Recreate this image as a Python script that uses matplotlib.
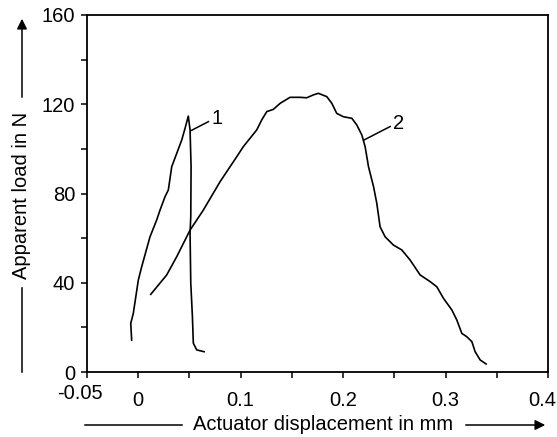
import numpy as np
import matplotlib
matplotlib.use("Agg")
import matplotlib.pyplot as plt
import matplotlib.transforms as mtransforms
from matplotlib.patches import FancyArrowPatch
from matplotlib.ticker import MultipleLocator, FixedLocator, FixedFormatter

plt.rcParams['font.family'] = ['Liberation Sans', 'DejaVu Sans']

# curve 1: up then almost vertical down
c1_x = [-0.0064, -0.0073, -0.0048, 0.0001, 0.0034, 0.0115, 0.018, 0.0213, 0.0262,
        0.0294, 0.0327, 0.0376, 0.0425, 0.0457, 0.0489,
        0.0506, 0.0516, 0.0513, 0.0506, 0.0513, 0.0529, 0.0538, 0.0571, 0.0643]
c1_y = [14.3, 21.8, 26.3, 41.2, 47.2, 60.6, 68.1, 72.6, 78.6,
        81.6, 92.0, 98.0, 104.0, 109.2, 114.7,
        108.5, 92.0, 69.6, 62.2, 39.8, 24.8, 12.9, 9.9, 9.1]

# curve 2
c2_x = [0.0122, 0.0278, 0.0376, 0.0506, 0.0636, 0.0799, 0.0962, 0.1026, 0.1157,
        0.1206, 0.1255, 0.1319, 0.1385, 0.1482, 0.158, 0.1645, 0.171, 0.1759,
        0.1841, 0.189, 0.1938, 0.2003, 0.2085, 0.2134, 0.2183, 0.2215, 0.2248,
        0.2297, 0.2329, 0.2361, 0.241, 0.2491, 0.2573, 0.2654, 0.2752, 0.285,
        0.2915, 0.298, 0.3062, 0.311, 0.3159, 0.3208, 0.3257, 0.3289, 0.3338, 0.3396]
c2_y = [34.8, 43.5, 51.7, 63.6, 72.6, 85.3, 96.5, 101.0, 108.5,
        113.0, 116.7, 117.7, 120.4, 123.1, 123.1, 122.9, 124.2, 124.9,
        123.4, 120.4, 115.9, 114.4, 113.7, 110.7, 106.2, 101.0, 92.0,
        83.1, 75.6, 65.1, 60.6, 56.9, 54.7, 50.2, 43.5, 40.5,
        38.2, 33.0, 27.8, 23.3, 17.3, 15.8, 13.6, 9.1, 5.4, 3.6]

x_ticks = [-0.05, 0, 0.1, 0.2, 0.3, 0.4]
x_tick_labels = ["-0.05", "0", "0.1", "0.2", "0.3", "0.4"]
y_ticks = [0, 40, 80, 120, 160]

FS = 14.5

fig = plt.figure(figsize=(5.57, 4.37), dpi=100)
ax = fig.add_axes([0.1562, 0.1487, 0.8276, 0.817])

ax.plot(c1_x, c1_y, color='black', lw=1.2)
ax.plot(c2_x, c2_y, color='black', lw=1.2)

# curve labels with leader lines
ax.plot([0.0516, 0.0685], [108.2, 112.2], color='black', lw=1.1)
ax.text(0.0715, 113.7, "1", fontsize=FS, va='center', ha='left')
ax.plot([0.2205, 0.2459], [104.0, 110.0], color='black', lw=1.1)
ax.text(0.249, 111.5, "2", fontsize=FS, va='center', ha='left')

ax.set_xlim(-0.05, 0.4)
ax.set_ylim(0, 160)
ax.xaxis.set_major_locator(FixedLocator(x_ticks))
ax.xaxis.set_major_formatter(FixedFormatter(x_tick_labels))
ax.xaxis.set_minor_locator(MultipleLocator(0.05))
ax.set_yticks(y_ticks)
ax.yaxis.set_minor_locator(MultipleLocator(20))
ax.tick_params(which='both', direction='out', length=4.5, width=1.1, labelsize=FS)
ax.tick_params(axis='y', pad=4)
ax.tick_params(axis='x', pad=9)
for s in ax.spines.values():
    s.set_linewidth(1.3)

# the first and last x labels sit a bit off their ticks
labs = ax.get_xticklabels()
labs[0].set_transform(labs[0].get_transform() +
                      mtransforms.ScaledTranslation(-0.07, 0.065, fig.dpi_scale_trans))
labs[-1].set_transform(labs[-1].get_transform() +
                       mtransforms.ScaledTranslation(-0.055, 0, fig.dpi_scale_trans))

# axis titles with arrows
W, H = 557.0, 437.0
fig.text(193 / W, 1 - 425 / H, "Actuator displacement in mm", fontsize=FS,
         ha='left', va='center')
fig.add_artist(plt.Line2D([85 / W, 182 / W], [1 - 425 / H] * 2, color='black', lw=1.1))
fig.add_artist(FancyArrowPatch((463 / W, 1 - 425 / H), (548 / W, 1 - 425 / H),
               transform=fig.transFigure, arrowstyle='-|>', mutation_scale=15,
               color='black', lw=1.1))

fig.text(22 / W, 1 - 195 / H, "Apparent load in N", fontsize=FS, rotation=90,
         ha='center', va='center')
fig.add_artist(plt.Line2D([22 / W] * 2, [1 - 372 / H, 1 - 288 / H], color='black', lw=1.1))
fig.add_artist(FancyArrowPatch((22 / W, 1 - 100 / H), (22 / W, 1 - 16 / H),
               transform=fig.transFigure, arrowstyle='-|>', mutation_scale=15,
               color='black', lw=1.1))

fig.savefig("out.png", dpi=100)
